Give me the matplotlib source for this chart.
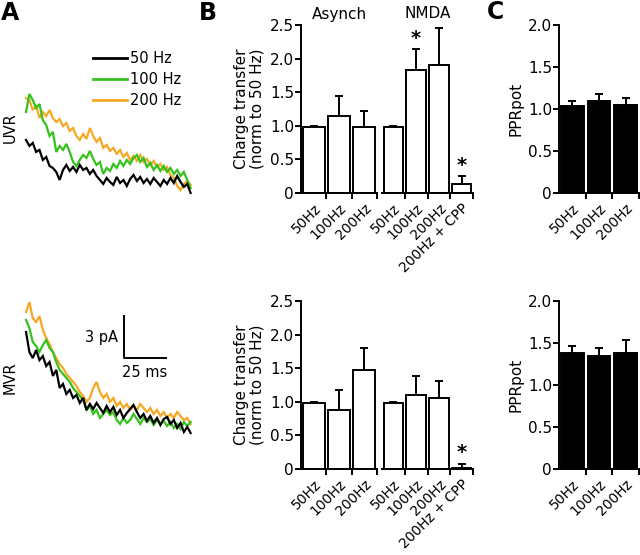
import numpy as np
import matplotlib.pyplot as plt

# ---- Data ----
# Panel A: averaged asynchronous current traces (pA), sampled every 2 ms
trace_t = np.arange(0, 100, 2)

uvr_50 = [4.20, 3.78, 3.99, 3.36, 3.50, 2.80, 3.01, 2.38, 2.24, 1.96, 1.40, 2.10, 2.45, 2.03, 2.31, 1.96, 2.45,
          2.10, 2.24, 1.82, 2.10, 1.68, 1.40, 1.12, 1.54, 1.26, 1.05, 1.61, 1.19, 1.40, 0.98, 1.47, 1.75, 1.33,
          1.61, 1.19, 1.47, 1.12, 1.54, 1.26, 0.98, 1.40, 1.12, 1.54, 1.19, 1.68, 1.26, 0.91, 1.12, 0.49]
uvr_100 = [6.15, 7.41, 6.99, 6.43, 6.71, 5.59, 5.24, 4.48, 4.76, 3.36, 3.78, 3.50, 3.92, 3.36, 2.66, 2.38, 2.80,
           3.15, 2.94, 3.43, 2.87, 2.45, 2.66, 1.82, 2.24, 2.03, 2.52, 2.24, 2.73, 2.38, 2.80, 2.52, 2.94, 3.15,
           2.66, 2.94, 2.31, 2.59, 2.10, 2.45, 2.03, 2.38, 1.96, 2.24, 1.82, 2.10, 1.68, 1.96, 1.40, 0.84]
uvr_200 = [7.13, 6.99, 6.29, 6.64, 5.73, 6.15, 5.87, 6.29, 5.73, 5.45, 5.66, 5.17, 5.38, 4.83, 5.03, 4.48, 4.20,
           4.62, 4.27, 5.03, 4.48, 4.06, 4.34, 3.64, 3.85, 3.43, 3.64, 3.22, 3.50, 3.01, 3.29, 2.80, 3.08, 2.73,
           3.15, 2.66, 2.87, 2.45, 2.73, 2.31, 2.52, 2.10, 2.31, 1.75, 1.54, 0.98, 0.70, 1.12, 1.33, 1.05]

mvr_50 = [7.55, 6.15, 5.73, 6.29, 5.59, 5.87, 5.17, 5.45, 4.48, 4.90, 3.64, 3.92, 3.22, 3.50, 2.94, 3.15, 2.59,
          2.94, 2.10, 2.52, 2.17, 2.59, 2.24, 1.89, 2.38, 1.96, 2.31, 1.75, 2.10, 1.54, 1.89, 2.17, 2.45, 1.96,
          1.54, 1.82, 1.33, 1.68, 1.19, 1.54, 1.05, 1.47, 1.61, 1.12, 1.40, 0.84, 1.19, 0.56, 0.91, 0.49]
mvr_100 = [8.39, 7.83, 6.85, 6.57, 6.15, 6.64, 6.99, 6.43, 6.15, 5.45, 4.90, 4.62, 4.34, 4.06, 3.64, 3.36, 3.08,
           2.80, 2.10, 2.38, 1.82, 2.10, 1.54, 1.82, 2.10, 1.75, 1.96, 1.40, 1.12, 1.54, 1.19, 1.40, 1.82, 1.47,
           1.12, 1.54, 1.26, 1.47, 1.05, 1.40, 1.12, 1.33, 0.98, 1.26, 0.84, 1.12, 0.77, 1.26, 0.98, 1.26]
mvr_200 = [8.95, 9.65, 8.53, 8.25, 8.67, 7.69, 7.13, 6.71, 6.15, 5.73, 5.31, 5.03, 4.62, 4.34, 4.06, 3.78, 3.36,
           3.08, 2.66, 2.94, 3.64, 4.06, 3.36, 2.94, 3.22, 2.66, 2.94, 2.38, 2.66, 2.24, 2.52, 2.10, 2.38, 2.10,
           2.52, 2.24, 1.96, 2.24, 1.82, 2.10, 1.68, 1.96, 1.54, 1.82, 1.54, 1.96, 1.68, 1.40, 1.54, 1.12]

trace_labels = ["50 Hz", "100 Hz", "200 Hz"]
trace_colors = ["black", "#35c21c", "#f7a823"]

# Panel B: charge transfer normalised to 50 Hz (mean, upper SEM)
asynch_labels = ["50Hz", "100Hz", "200Hz"]
nmda_labels = ["50Hz", "100Hz", "200Hz", "200Hz + CPP"]

uvr_asynch = [0.98, 1.15, 0.98]
uvr_asynch_err = [0.02, 0.30, 0.24]
uvr_nmda = [0.98, 1.83, 1.90, 0.13]
uvr_nmda_err = [0.02, 0.31, 0.55, 0.12]
uvr_nmda_sig = [False, True, False, True]

mvr_asynch = [0.98, 0.88, 1.48]
mvr_asynch_err = [0.02, 0.29, 0.32]
mvr_nmda = [0.98, 1.10, 1.05, 0.02]
mvr_nmda_err = [0.02, 0.29, 0.26, 0.06]
mvr_nmda_sig = [False, False, False, True]

# Panel C: paired-pulse ratio potentiation
ppr_labels = ["50Hz", "100Hz", "200Hz"]
uvr_ppr = [1.04, 1.10, 1.05]
uvr_ppr_err = [0.06, 0.075, 0.08]
mvr_ppr = [1.38, 1.35, 1.38]
mvr_ppr_err = [0.09, 0.09, 0.16]

plt.rcParams['font.family'] = 'DejaVu Sans'
plt.rcParams['axes.linewidth'] = 1.4

W, H = 640, 555
fig = plt.figure(figsize=(W / 100, H / 100), dpi=100)


def px_axes(x0, y0, x1, y1):
    # pixel box (top-left origin) -> figure axes
    return fig.add_axes([x0 / W, 1 - y1 / H, (x1 - x0) / W, (y1 - y0) / H])


def trace_panel(ax, traces, ylim):
    for tr, col in list(zip(traces, trace_colors))[::-1]:
        ax.plot(trace_t, tr, color=col, lw=1.6, solid_joinstyle='miter')
    ax.set_xlim(-3.6, 103.6)
    ax.set_ylim(*ylim)
    ax.axis('off')


def bar_panel(ax, vals, errs, labels, ylim, yticks, fill, left_spine=True, sig=None):
    x = np.arange(len(vals))
    ax.bar(x, vals, width=0.86, color=fill, edgecolor='black', linewidth=1.4, zorder=2)
    ax.errorbar(x, vals, yerr=[np.zeros(len(vals)), errs], fmt='none', ecolor='black',
                elinewidth=1.4, capsize=3, capthick=1.4, zorder=1)
    if sig is not None:
        for xi, v, e, s in zip(x, vals, errs, sig):
            if s:
                ax.text(xi, v + e + 0.02, '*', ha='center', va='bottom', fontsize=14, fontweight='bold')
    ax.set_xlim(-0.5, len(vals) - 0.5)
    ax.set_ylim(*ylim)
    ax.set_xticks(x)
    ax.set_xticklabels(labels, rotation=45, ha='right', rotation_mode='anchor', fontsize=10)
    ax.set_xticks(np.arange(len(vals)) + 0.5, minor=True)
    ax.tick_params(axis='x', which='major', length=0, pad=6)
    ax.tick_params(axis='x', which='minor', length=4, width=1.4, direction='out')
    ax.spines['top'].set_visible(False)
    ax.spines['right'].set_visible(False)
    if left_spine:
        ax.set_yticks(yticks)
        ax.set_yticklabels(['0' if t == 0 else f'{t:.1f}' for t in yticks], fontsize=11)
        ax.tick_params(axis='y', length=4, width=1.4, pad=1)
    else:
        ax.spines['left'].set_visible(False)
        ax.set_yticks([])


# ---- Panel A ----
axA1 = px_axes(20, 80, 200, 205)
trace_panel(axA1, [uvr_50, uvr_100, uvr_200], (-0.35, 8.39))
axA2 = px_axes(20, 290, 200, 445)
trace_panel(axA2, [mvr_50, mvr_100, mvr_200], (-0.35, 10.49))

handles = [plt.Line2D([], [], color=c, lw=2) for c in trace_colors]
fig.legend(handles, trace_labels, loc='upper left', bbox_to_anchor=(80 / W, 1 - 38 / H),
           frameon=False, fontsize=10.5, handlelength=2.3, handletextpad=0.2, labelspacing=0.4)

# scale bar: 3 pA, 25 ms
axA2.plot([58.3, 58.3, 83.3], [8.67, 5.73, 5.73], color='black', lw=1.4)
axA2.text(54.5, 7.2, '3 pA', ha='right', va='center', fontsize=10.5)
axA2.text(70.8, 4.7, '25 ms', ha='center', va='center', fontsize=10.5)

fig.text(10 / W, 1 - 128 / H, 'UVR', rotation=90, ha='center', va='center', fontsize=10.5)
fig.text(10 / W, 1 - 378 / H, 'MVR', rotation=90, ha='center', va='center', fontsize=10.5)

# ---- Panel B ----
b_ticks = [0, 0.5, 1.0, 1.5, 2.0, 2.5]
for (yt, yb), asy, asy_e, nm, nm_e, sig in [((25, 193), uvr_asynch, uvr_asynch_err, uvr_nmda, uvr_nmda_err, uvr_nmda_sig),
                                            ((301, 469), mvr_asynch, mvr_asynch_err, mvr_nmda, mvr_nmda_err, mvr_nmda_sig)]:
    axB1 = px_axes(301, yt, 377, yb)
    bar_panel(axB1, asy, asy_e, asynch_labels, (0, 2.5), b_ticks, 'white')
    axB1.set_ylabel('Charge transfer\n(norm to 50 Hz)', fontsize=11, labelpad=4, linespacing=1.0)
    axB2 = px_axes(382, yt, 473, yb)
    bar_panel(axB2, nm, nm_e, nmda_labels, (0, 2.5), b_ticks, 'white', left_spine=False, sig=sig)

fig.text(339 / W, 1 - 14 / H, 'Asynch', ha='center', va='center', fontsize=11)
fig.text(428 / W, 1 - 14 / H, 'NMDA', ha='center', va='center', fontsize=11)

# ---- Panel C ----
c_ticks = [0, 0.5, 1.0, 1.5, 2.0]
for (yt, yb), vals, errs in [((25, 193), uvr_ppr, uvr_ppr_err), ((301, 469), mvr_ppr, mvr_ppr_err)]:
    axC = px_axes(559, yt, 639, yb)
    bar_panel(axC, vals, errs, ppr_labels, (0, 2.0), c_ticks, 'black')
    axC.set_ylabel('PPRpot', fontsize=11, labelpad=3)

# panel letters
for lab, xp, yp in [('A', 10, 13), ('B', 208, 13), ('C', 495, 12)]:
    fig.text(xp / W, 1 - yp / H, lab, ha='center', va='center', fontsize=17, fontweight='bold')

fig.savefig('out.png', dpi=100)
